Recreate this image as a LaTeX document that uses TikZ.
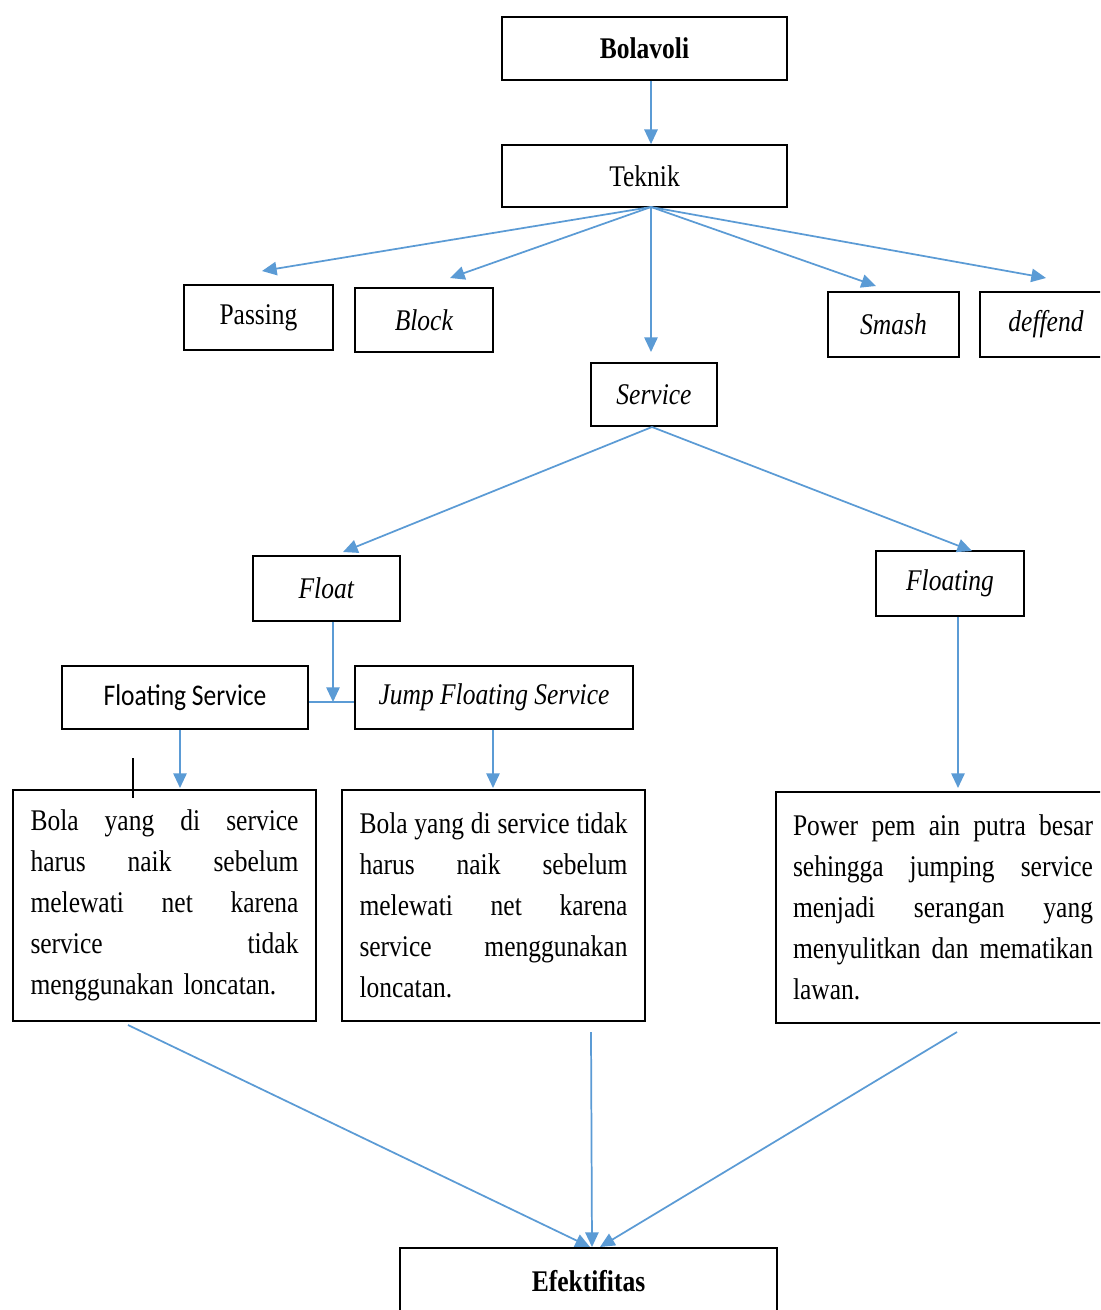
\documentclass[tikz,border=0pt]{standalone}
\usepackage{fontspec}
\setmainfont{Liberation Serif}[FakeStretch=0.85]
\newfontfamily\calfont{Carlito}[FakeStretch=0.85]
\usetikzlibrary{arrows.meta,calc}
\definecolor{arrowblue}{RGB}{91,155,213}
\setlength{\parindent}{0pt}
\begin{document}
\begin{tikzpicture}[x=0.75pt,y=-0.75pt,
  font=\fontsize{22.5}{30.75}\selectfont,
  box/.style={draw, line width=1.3pt, inner sep=0pt, align=center},
  sz/.style 2 args={minimum width=#1*0.75pt, minimum height=#2*0.75pt},
  textbox/.style={draw, line width=1.3pt, inner ysep=0pt, inner xsep=13pt},
  conn/.style={draw=arrowblue, line width=1.3pt, -{Triangle[length=11pt,width=10pt]}},
  plainconn/.style={draw=arrowblue, line width=1.3pt}]
\useasboundingbox (0,0) rectangle (1100,1310);
\clip (0,0) rectangle (1100,1310);
\fill[white] (0,0) rectangle (1100,1310);

% nodes
\node[box, sz={285}{63}] (bol) at (644.5,48.5) {\textbf{Bolavoli}};
\node[box, sz={285}{62}] (tek) at (644.5,176) {Teknik};
\node[box, sz={149}{65}] (pas) at (258.5,317.5) {Passing};
\node[box, sz={138}{64}] (blk) at (424,320) {\textit{Block}};
\node[box, sz={131}{65}] (sma) at (893.5,324.5) {\textit{Smash}};
\node[box, sz={132}{65}] (def) at (1046,324.5) {\textit{deffend}};
\node[box, sz={126}{63}] (svc) at (654,394.5) {\textit{Service}};
\node[box, sz={147}{65}] (flt) at (326.5,588.5) {\textit{Float}};
\node[box, sz={148}{65}] (flg) at (950,583.5) {\textit{Floating}};
\node[box, sz={246}{63}] (fs) at (185,697.5) {\calfont Floating Service};
\node[box, sz={278}{63}] (jfs) at (494,697.5) {\textit{Jump Floating Service}};

\node[textbox, sz={303}{231}, text width=201pt] (b1) at (164.5,905.5) {%
Bola\hfill yang\hfill di\hfill service\par
harus\hfill naik\hfill sebelum\par
melewati\hfill net\hfill karena\par
service\hfill tidak\par
menggunakan loncatan.};
\node[textbox, sz={303}{231}, text width=201pt] (b2) at (493.5,905.5) {%
Bola\hfill yang\hfill di\hfill service\hfill tidak\par
harus\hfill naik\hfill sebelum\par
melewati\hfill net\hfill karena\par
service\hfill menggunakan\par
loncatan.};
\node[textbox, sz={334}{231}, text width=225pt] (b3) at (943,907.5) {%
Power\hfill pem\hfill ain\hfill putra\hfill besar\par
sehingga\hfill jumping\hfill service\par
menjadi\hfill serangan\hfill yang\par
menyulitkan\hfill dan\hfill mematikan\par
lawan.};
\node[box, sz={377}{66}] (efk) at (588.5,1281) {\textbf{Efektifitas}};

% coordinates
\coordinate (tk) at (651,207);
\coordinate (tpas) at (262,271);
\coordinate (tblk) at (450,278);
\coordinate (tsvc) at (651,352);
\coordinate (tsma) at (876,286);
\coordinate (tdef) at (1046,278);
\coordinate (sv) at (652,427);
\coordinate (tflt) at (343,552);
\coordinate (tflg) at (972,551);
\coordinate (junc) at (333,702);
\coordinate (tb1) at (180,788);
\coordinate (tb2) at (493,788);
\coordinate (tb3) at (958,788);
\coordinate (s1) at (128,1025);
\coordinate (s2) at (591,1032);
\coordinate (s3) at (957,1032);
\coordinate (e1) at (590,1247);
\coordinate (e2) at (592,1247);
\coordinate (e3) at (600,1247);

% connectors
\draw[conn] (bol.south -| tk) -- (tek.north -| tk);
\draw[conn] (tk) -- (tpas);
\draw[conn] (tk) -- (tblk);
\draw[conn] (tk) -- (tsvc);
\draw[conn] (tk) -- (tsma);
\draw[conn] (tk) -- (tdef);
\draw[conn] (sv) -- (tflt);
\draw[conn] (sv) -- (tflg);
\draw[conn] (flt.south -| junc) -- (junc);
\draw[plainconn] (fs.east |- junc) -- (jfs.west |- junc);
\draw[conn] (fs.south -| tb1) -- (tb1);
\draw[conn] (jfs.south -| tb2) -- (tb2);
\draw[conn] (flg.south -| tb3) -- (tb3);
\draw[conn] (s1) -- (e1);
\draw[conn] (s2) -- (e2);
\draw[conn] (s3) -- (e3);

% stray mark
\draw[line width=0.9pt] (133,758) -- (133,798);
\end{tikzpicture}
\end{document}
